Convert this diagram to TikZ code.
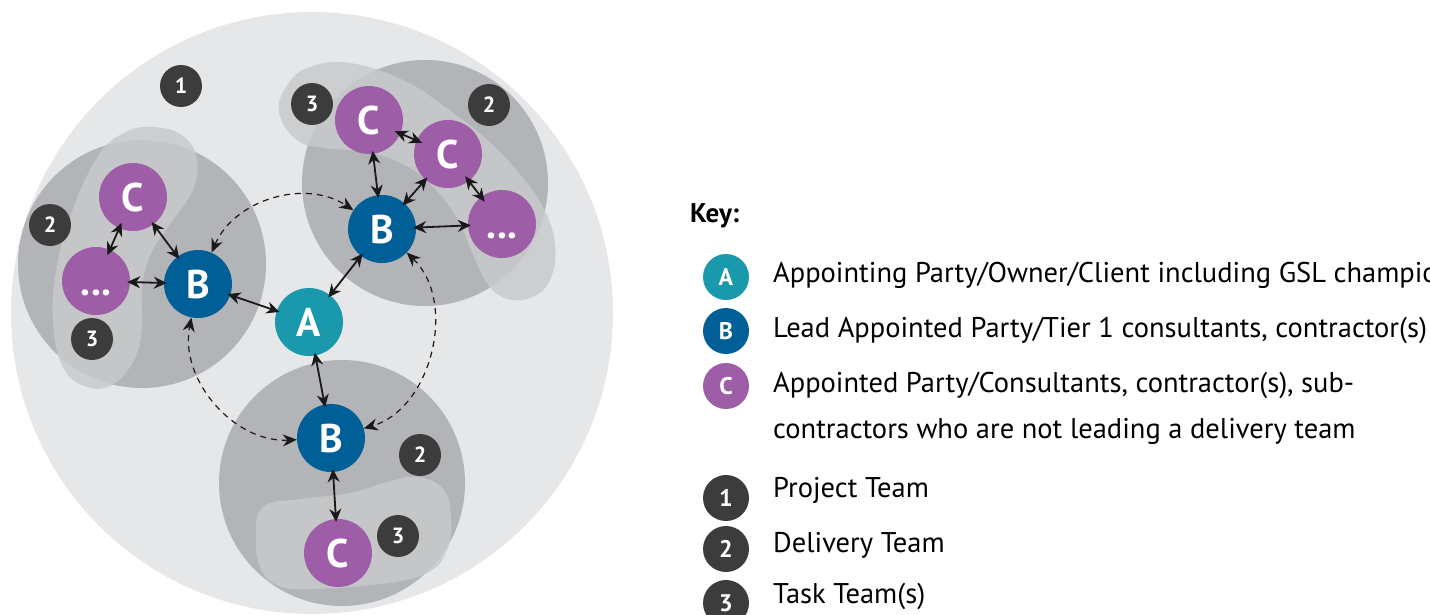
\documentclass[tikz,border=0pt]{standalone}
\usepackage{fontspec}
\setmainfont{PT Sans}
\usetikzlibrary{arrows.meta}

\definecolor{projgray}{HTML}{E6E7E8}
\definecolor{delgray}{HTML}{B3B4B7}
\definecolor{taskgray}{HTML}{C9CACC}
\definecolor{teamA}{HTML}{1A99AC}
\definecolor{teamB}{HTML}{005F97}
\definecolor{teamC}{HTML}{9E5EA7}
\definecolor{badgegray}{HTML}{3C3C3C}

\tikzset{
  party/.style={circle, inner sep=0pt, minimum size=68pt, text=white,
    font=\fontsize{40}{40}\selectfont\bfseries, text height=28pt, text depth=0pt},
  badge/.style={circle, fill=badgegray, inner sep=0pt, minimum size=42pt, text=white,
    font=\fontsize{22}{22}\selectfont\bfseries, text height=15pt, text depth=0pt},
  keydot/.style={circle, inner sep=0pt, minimum size=46pt, text=white,
    font=\fontsize{24}{24}\selectfont\bfseries, text height=17pt, text depth=0pt},
  keytext/.style={anchor=base west, inner sep=0pt,
    font=\fontsize{28.5}{30}\selectfont},
  link/.style={{Stealth[length=13pt,width=12pt]}-{Stealth[length=13pt,width=12pt]},
    line width=1.8pt, black!90, shorten <=-3pt, shorten >=-3pt},
  tightlink/.style={link, shorten <=-6pt, shorten >=-6pt},
  hop/.style={{Stealth[length=14pt,width=12pt]}-{Stealth[length=14pt,width=12pt]},
    line width=1.2pt, dash pattern=on 6pt off 5pt, black!90}
}

\begin{document}
\begin{tikzpicture}[x=1pt, y=-1pt]
  \useasboundingbox (0,0) rectangle (1430,614);
  \clip (0,0) rectangle (1430,614);

  % project team and the three delivery teams
  \fill[projgray] (312,313) circle (301pt);
  \fill[delgray] (142,264) circle (124pt);
  \fill[delgray] (425,183) circle (123pt);
  \fill[delgray] (342,483) circle (123pt);

  % task teams
  \fill[taskgray, opacity=.85] plot[smooth cycle, tension=.7] coordinates {
    (153,127) (183,136) (197,160) (192,192) (170,224) (150,256) (142,290)
    (142,328) (134,360) (112,385) (84,386) (62,365) (53,322) (56,272)
    (71,214) (98,156) (124,133)};
  \fill[taskgray, opacity=.85] plot[smooth cycle, tension=.7] coordinates {
    (279,112) (288,84) (310,67) (350,63) (403,80) (445,107) (487,140)
    (518,172) (543,207) (555,245) (550,280) (530,298) (505,298) (487,283)
    (472,252) (458,220) (437,191) (410,168) (372,153) (325,148) (297,140)};
  \fill[taskgray, opacity=.85] plot[smooth cycle, tension=.7] coordinates {
    (263,507) (300,499) (350,493) (387,482) (417,477) (443,489) (451,517)
    (447,550) (427,573) (380,584) (310,589) (277,585) (260,567) (256,537)};

  \node[party, fill=teamA] (A) at (309,322) {A};
  \node[party, fill=teamB] (Bl) at (198,284) {B};
  \node[party, fill=teamB] (Bt) at (382,229) {B};
  \node[party, fill=teamB] (Bb) at (331,438) {B};
  \node[party, fill=teamC] (Cl) at (133,197) {C};
  \node[party, fill=teamC] (Ml) at (96,281) {...};
  \node[party, fill=teamC] (Ct1) at (369,120) {C};
  \node[party, fill=teamC] (Ct2) at (448,154) {C};
  \node[party, fill=teamC] (Mt) at (502,224) {...};
  \node[party, fill=teamC] (Cb) at (338,553) {C};

  \node[badge] (proj) at (181,86) {1};
  \node[badge] (delL) at (50,225) {2};
  \node[badge] (delT) at (489,105) {2};
  \node[badge] (delB) at (420,455) {2};
  \node[badge] (taskL) at (92,339) {3};
  \node[badge] (taskT) at (312,104) {3};
  \node[badge] (taskB) at (398,536) {3};

  % lead appointed parties talk to each other
  \draw[hop] (Bl) to[bend left=50] (Bt);
  \draw[hop] (Bt) to[bend left=60] (Bb);
  \draw[hop] (Bb) to[bend left=52] (Bl);

  \draw[link] (A) -- (Bl);
  \draw[link] (A) -- (Bt);
  \draw[link] (A) -- (Bb);
  \draw[link] (Bl) -- (Cl);
  \draw[link] (Bl) -- (Ml);
  \draw[tightlink] (Cl) -- (Ml);
  \draw[link] (Bt) -- (Ct1);
  \draw[link] (Bt) -- (Ct2);
  \draw[link] (Bt) -- (Mt);
  \draw[tightlink] (Ct1) -- (Ct2);
  \draw[tightlink] (Ct2) -- (Mt);
  \draw[link] (Bb) -- (Cb);

  % key
  \node[anchor=base west, inner sep=0pt, font=\fontsize{27}{27}\selectfont\bfseries]
    (key) at (690,222) {Key:};
  \node[keydot, fill=teamA] (kA) at (726,277) {A};
  \node[keydot, fill=teamB] (kB) at (726,331) {B};
  \node[keydot, fill=teamC] (kC) at (726,386) {C};
  \node[keydot, fill=badgegray] (k1) at (726,498) {1};
  \node[keydot, fill=badgegray] (k2) at (726,549) {2};
  \node[keydot, fill=badgegray] (k3) at (726,603) {3};
  \node[keytext] (tA) at (773,282) {Appointing Party/Owner/Client including GSL champion};
  \node[keytext] (tB) at (773,337) {Lead Appointed Party/Tier 1 consultants, contractor(s)};
  \node[keytext] (tC) at (773,392) {Appointed Party/Consultants, contractor(s), sub-};
  \node[keytext] (tC2) at (773,438) {contractors who are not leading a delivery team};
  \node[keytext] (t1) at (773,497) {Project Team};
  \node[keytext] (t2) at (773,552) {Delivery Team};
  \node[keytext] (t3) at (773,603) {Task Team(s)};
\end{tikzpicture}
\end{document}
